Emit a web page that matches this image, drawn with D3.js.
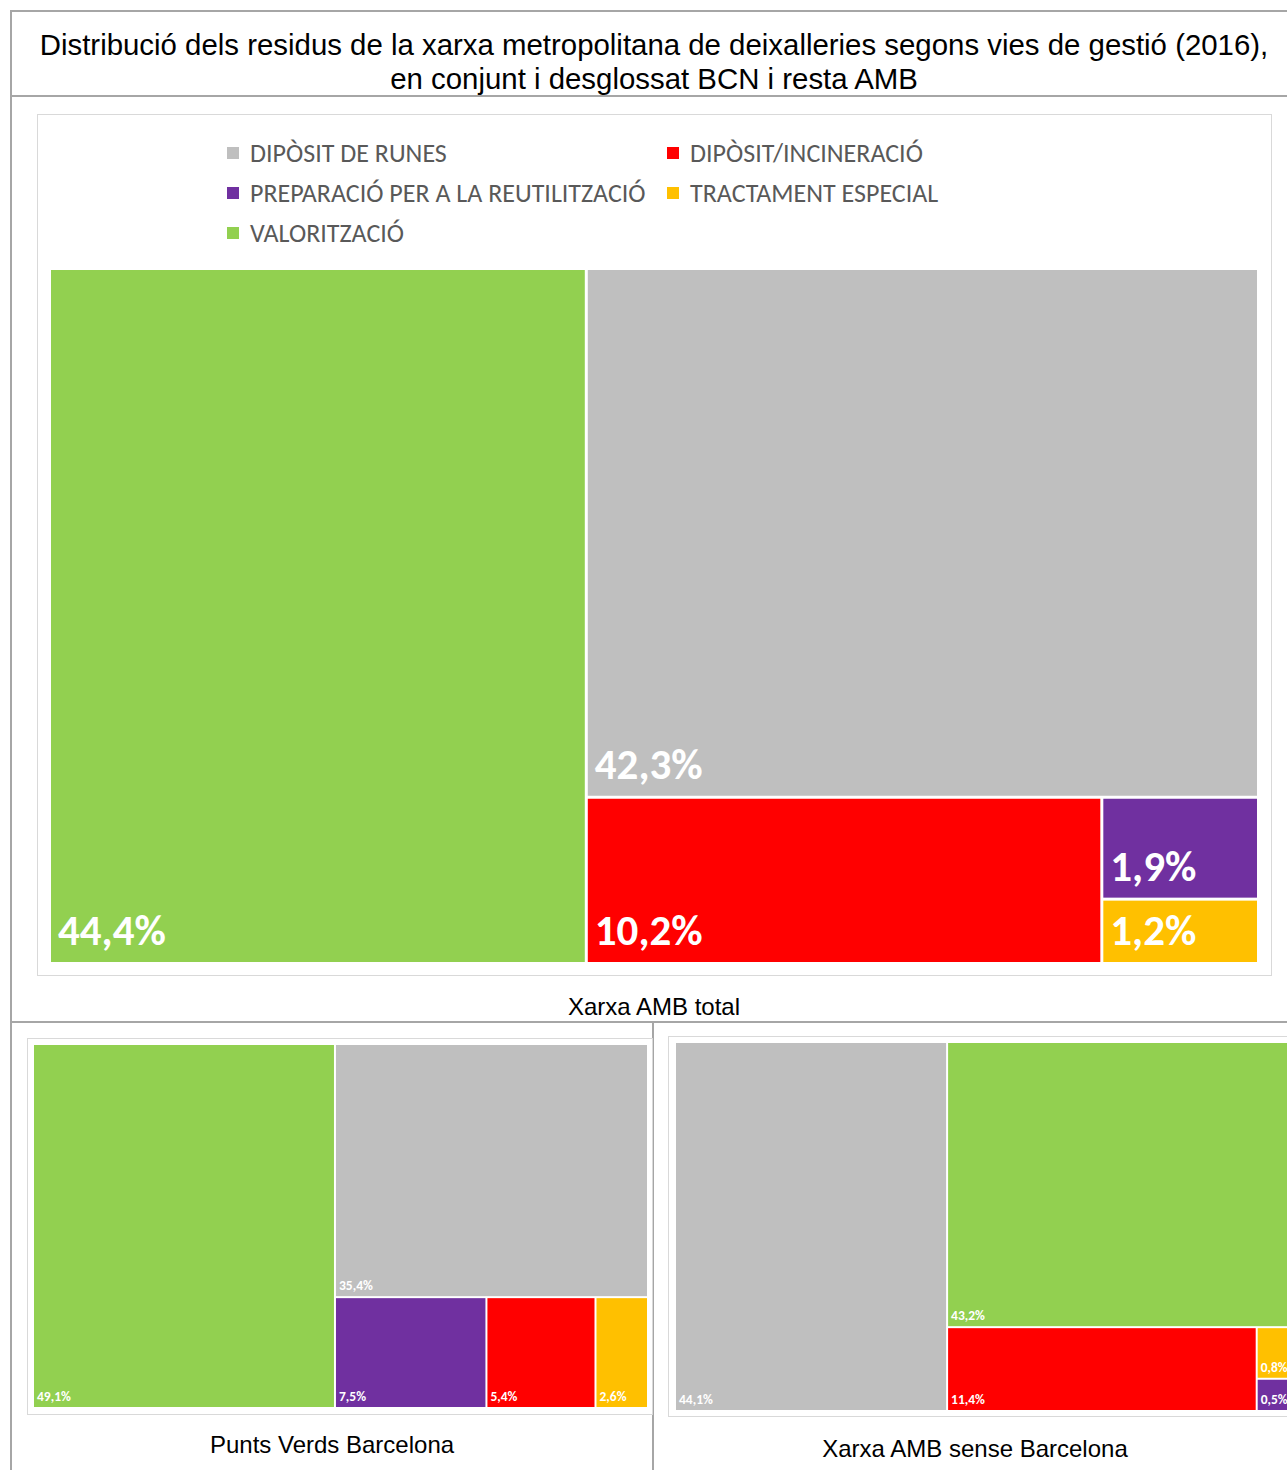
<!DOCTYPE html>
<html>
<head>
<meta charset="utf-8">
<script src="https://cdn.jsdelivr.net/npm/d3@7"></script>
<style>
  body { margin: 0; background: #fff; }
  svg { display: block; }
</style>
</head>
<body>
<svg></svg>
<script>
const [WIDTH, HEIGHT] = [1287, 1470]

// categories in legend order (row by row)
const categories = ['DIPÒSIT DE RUNES', 'DIPÒSIT/INCINERACIÓ', 'PREPARACIÓ PER A LA REUTILITZACIÓ', 'TRACTAMENT ESPECIAL', 'VALORITZACIÓ']
const colors = ['#bfbfbf', '#ff0000', '#7030a0', '#ffc000', '#92d050']

// % per category, same order as categories
const totalValues = [42.3, 10.2, 1.9, 1.2, 44.4]
const bcnValues = [35.4, 5.4, 7.5, 2.6, 49.1]
const restaValues = [44.1, 11.4, 0.5, 0.8, 43.2]

const titleLines = ['Distribució dels residus de la xarxa metropolitana de deixalleries segons vies de gestió (2016),', 'en conjunt i desglossat BCN i resta AMB']
const captions = ['Xarxa AMB total', 'Punts Verds Barcelona', 'Xarxa AMB sense Barcelona']

const color = d3.scaleOrdinal().domain(categories).range(colors)
const fmt = d3.formatLocale({decimal: ',', thousands: '.', grouping: [3], currency: ['', '€']}).format('.1f')

const svg = d3.select('svg')
    .attr('width', WIDTH)
    .attr('height', HEIGHT)
    .attr('viewBox', `0 0 ${WIDTH} ${HEIGHT}`)

// table lines
const LINE = '#a6a6a6'
const tbl = svg.append('g').attr('stroke', LINE).attr('stroke-width', 2)
tbl.append('line').attr('x1', 11).attr('x2', WIDTH).attr('y1', 11).attr('y2', 11)
tbl.append('line').attr('x1', 11).attr('x2', WIDTH).attr('y1', 96).attr('y2', 96)
tbl.append('line').attr('x1', 11).attr('x2', WIDTH).attr('y1', 1022).attr('y2', 1022)
tbl.append('line').attr('x1', 11).attr('x2', 11).attr('y1', 10).attr('y2', HEIGHT)
tbl.append('line').attr('x1', 653).attr('x2', 653).attr('y1', 1022).attr('y2', HEIGHT)

// title
svg.append('g').selectAll('text')
    .data(titleLines)
    .join('text')
    .attr('x', 654)
    .attr('y', (d, i) => 55 + i * 34)
    .attr('text-anchor', 'middle')
    .attr('font-family', 'Liberation Sans, Arial, sans-serif')
    .attr('font-size', 29.4)
    .attr('fill', '#000')
    .text(d => d)

// captions
const capPos = [[654, 1015], [332, 1453], [975, 1457]]
svg.append('g').selectAll('text')
    .data(captions)
    .join('text')
    .attr('x', (d, i) => capPos[i][0])
    .attr('y', (d, i) => capPos[i][1])
    .attr('text-anchor', 'middle')
    .attr('font-family', 'Liberation Sans, Arial, sans-serif')
    .attr('font-size', 24)
    .attr('fill', '#000')
    .text(d => d)

// chart frames
const frames = [[37, 114, 1234, 861], [27, 1038, 625, 376], [668, 1036, 640, 380]]
svg.append('g').selectAll('rect')
    .data(frames)
    .join('rect')
    .attr('x', d => d[0] + 0.5)
    .attr('y', d => d[1] + 0.5)
    .attr('width', d => d[2])
    .attr('height', d => d[3])
    .attr('fill', '#fff')
    .attr('stroke', '#d9d9d9')

// legend of the main chart
const legend = svg.append('g').attr('font-family', 'Calibri, Carlito, Lato, sans-serif')
const legendItem = legend.selectAll('g')
    .data(categories)
    .join('g')
    .attr('transform', (d, i) => `translate(${i % 2 == 0 ? 227 : 667},${153 + Math.floor(i / 2) * 40})`)
legendItem.append('rect')
    .attr('x', 0).attr('y', -6)
    .attr('width', 12).attr('height', 12)
    .attr('fill', d => color(d))
legendItem.append('text')
    .attr('x', 23)
    .attr('dy', '0.36em')
    .attr('font-size', 26)
    .attr('fill', '#595959')
    .text(d => d)

function drawTreemap(values, [x0, y0, x1, y1], pad, fontSize, lx, ly) {
    const root = d3.hierarchy({children: categories.map((c, i) => ({name: c, value: values[i]}))})
        .sum(d => d.value)
        .sort((a, b) => b.value - a.value)
    d3.treemap()
        .tile(d3.treemapBinary)
        .size([x1 - x0, y1 - y0])
        .paddingInner(pad)(root)

    const g = svg.append('g').attr('transform', `translate(${x0},${y0})`)
    const cell = g.selectAll('g')
        .data(root.leaves())
        .join('g')
        .attr('transform', d => `translate(${d.x0},${d.y0})`)
    cell.append('rect')
        .attr('width', d => d.x1 - d.x0)
        .attr('height', d => d.y1 - d.y0)
        .attr('fill', d => color(d.data.name))
    cell.append('text')
        .attr('x', lx)
        .attr('y', d => d.y1 - d.y0 - ly)
        .attr('font-family', 'Calibri, Carlito, Lato, sans-serif')
        .attr('font-weight', 'bold')
        .attr('font-size', fontSize)
        .attr('fill', '#fff')
        .text(d => fmt(d.data.value) + '%')
}

drawTreemap(totalValues, [51, 270, 1257, 962], 3, 43, 7, 17)
drawTreemap(bcnValues, [34, 1045, 647, 1407], 2, 13.5, 3, 6)
drawTreemap(restaValues, [676, 1043, 1291, 1410], 2, 13.5, 3, 6)
</script>
</body>
</html>
